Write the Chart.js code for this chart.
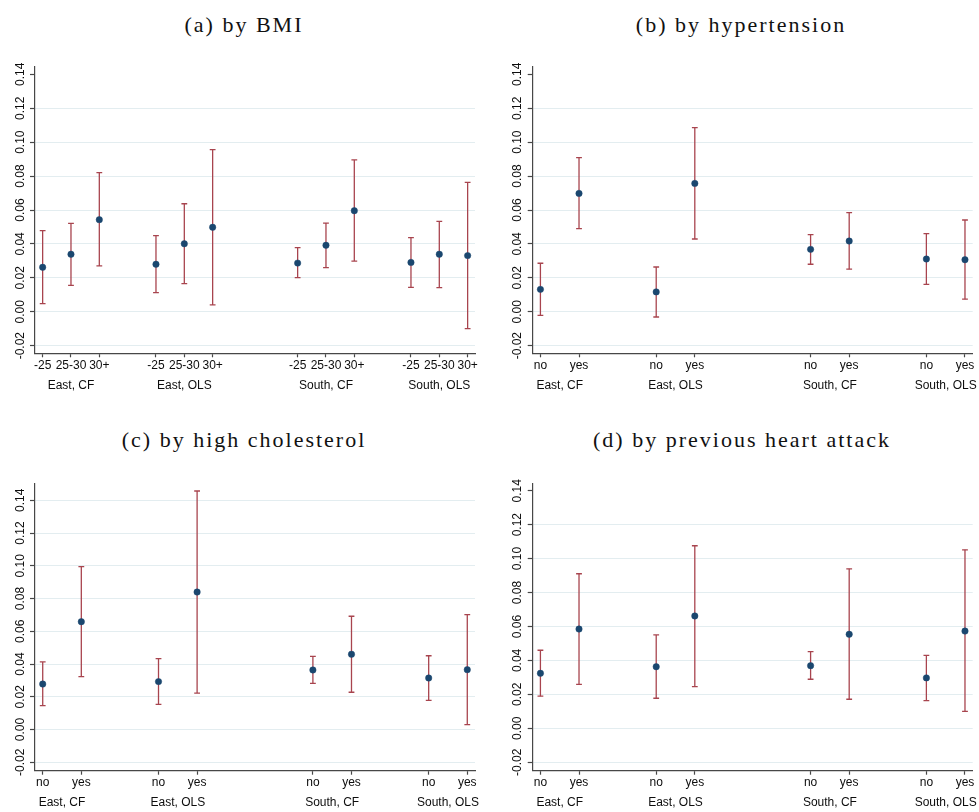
<!DOCTYPE html>
<html>
<head>
<meta charset="utf-8">
<title>Heterogeneous effects</title>
<script src="https://cdn.jsdelivr.net/npm/chart.js@4.4.1/dist/chart.umd.min.js"></script>
<style>
  body { margin: 0; background: #fff; }
  #wrap { position: relative; width: 979px; height: 812px; overflow: hidden; }
  canvas { position: absolute; }
  .ttl {
    position: absolute; width: 480px; height: 26px; line-height: 26px;
    text-align: center; white-space: nowrap;
    font-family: 'Liberation Serif', 'Times New Roman', serif;
    font-size: 22px; letter-spacing: 2px; color: #111;
  }
</style>
</head>
<body>
<div id="wrap">
  <div class="ttl" style="left:4px; top:12px;">(a) by BMI</div>
  <div class="ttl" style="left:501px; top:12px;">(b) by hypertension</div>
  <div class="ttl" style="left:4px; top:427px;">(c) by high cholesterol</div>
  <div class="ttl" style="left:502px; top:427px;">(d) by previous heart attack</div>
  <canvas id="chartBmi" width="489" height="370" style="left:0; top:40px;"></canvas>
  <canvas id="chartHyp" width="489" height="370" style="left:490px; top:40px;"></canvas>
  <canvas id="chartChol" width="489" height="362" style="left:0; top:450px;"></canvas>
  <canvas id="chartHeart" width="489" height="362" style="left:490px; top:450px;"></canvas>
</div>
<script>
const groups = ['East, CF', 'East, OLS', 'South, CF', 'South, OLS'];
const bmiLevels = ['-25', '25-30', '30+'];
const yesNo = ['no', 'yes'];
const yTicks = [-0.02, 0, 0.02, 0.04, 0.06, 0.08, 0.10, 0.12, 0.14];

// (a) BMI
const bmiCoef = [0.0262, 0.0339, 0.0543, 0.0280, 0.0401, 0.0498, 0.0287, 0.0392, 0.0596, 0.0291, 0.0339, 0.0331];
const bmiLow  = [0.0048, 0.0156, 0.0270, 0.0113, 0.0166, 0.0040, 0.0201, 0.0260, 0.0299, 0.0144, 0.0142, -0.0100];
const bmiHigh = [0.0478, 0.0521, 0.0820, 0.0449, 0.0637, 0.0956, 0.0378, 0.0523, 0.0895, 0.0437, 0.0533, 0.0763];

// (b) hypertension
const hypCoef = [0.0132, 0.0698, 0.0117, 0.0757, 0.0368, 0.0417, 0.0311, 0.0307];
const hypLow  = [-0.0021, 0.0490, -0.0031, 0.0429, 0.0280, 0.0251, 0.0162, 0.0074];
const hypHigh = [0.0286, 0.0909, 0.0264, 0.1086, 0.0455, 0.0584, 0.0461, 0.0541];

// (c) high cholesterol
const cholCoef = [0.0278, 0.0659, 0.0293, 0.0840, 0.0364, 0.0460, 0.0315, 0.0366];
const cholLow  = [0.0146, 0.0323, 0.0154, 0.0223, 0.0282, 0.0228, 0.0179, 0.0030];
const cholHigh = [0.0413, 0.0995, 0.0433, 0.1457, 0.0447, 0.0692, 0.0451, 0.0702];

// (d) previous heart attack
const heartCoef = [0.0324, 0.0585, 0.0363, 0.0662, 0.0369, 0.0554, 0.0297, 0.0573];
const heartLow  = [0.0189, 0.0259, 0.0177, 0.0246, 0.0289, 0.0171, 0.0163, 0.0100];
const heartHigh = [0.0460, 0.0911, 0.0550, 0.1076, 0.0452, 0.0940, 0.0430, 0.1052];

const NAVY = '#1a476f';
const RED = '#a8444e';
const AXIS = '#474747';
const GRID = '#e3edf0';

Chart.defaults.font.family = "'Liberation Sans', Arial, sans-serif";
Chart.defaults.font.size = 12;
Chart.defaults.color = '#0d0d0d';

// empty slots between the four groups on the x axis
const groupGap = [0, 1, 3, 4];

function slotPositions(levels) {
    const xs = [];
    groups.forEach((g, gi) => {
        levels.forEach((l, li) => xs.push(gi * levels.length + groupGap[gi] + li));
    });
    return xs;
}

function groupCenters(levels) {
    return groups.map((g, gi) => gi * levels.length + groupGap[gi] + (levels.length - 1) / 2);
}

function noPadding(s) {
    s.paddingTop = 0; s.paddingBottom = 0; s.paddingLeft = 0; s.paddingRight = 0;
}

function makePanel(id, levels, coef, low, high, opt) {
    const xs = slotPositions(levels);
    const tickLabels = groups.flatMap(() => levels);
    const centers = groupCenters(levels);

    const ciData = [];
    xs.forEach((x, i) => {
        ciData.push({ x: x, y: low[i] }, { x: x, y: high[i] }, { x: x, y: null });
    });

    new Chart(document.getElementById(id), {
        type: 'scatter',
        data: {
            datasets: [{
                data: xs.map((x, i) => ({ x: x, y: coef[i] })),
                pointRadius: 3.2,
                pointBackgroundColor: NAVY,
                pointBorderColor: NAVY,
                pointBorderWidth: 0.5
            }, {
                type: 'line',
                data: ciData,
                showLine: true,
                spanGaps: false,
                borderColor: RED,
                borderWidth: 1.3,
                pointStyle: 'line',
                pointRadius: 2.9,
                pointBorderColor: RED,
                pointBorderWidth: 1.3
            }]
        },
        options: {
            responsive: false,
            animation: false,
            events: [],
            layout: { autoPadding: false, padding: opt.padding },
            plugins: { legend: { display: false }, tooltip: { enabled: false } },
            scales: {
                x: {
                    type: 'linear',
                    position: 'bottom',
                    weight: 0,
                    min: opt.xMin,
                    max: opt.xMax,
                    afterBuildTicks: s => { s.ticks = xs.map(v => ({ value: v })); },
                    afterFit: s => { s.height = 22; noPadding(s); },
                    ticks: {
                        autoSkip: false,
                        minRotation: 0,
                        maxRotation: 0,
                        padding: 1,
                        callback: (v, i) => tickLabels[i]
                    },
                    grid: { drawOnChartArea: false, tickLength: 4, tickColor: AXIS, tickWidth: 1.2 },
                    border: { color: AXIS, width: 1.2 }
                },
                groupAxis: {
                    type: 'linear',
                    axis: 'x',
                    position: 'bottom',
                    weight: 1,
                    min: opt.xMin,
                    max: opt.xMax,
                    afterBuildTicks: s => { s.ticks = centers.map(v => ({ value: v })); },
                    afterFit: s => { s.height = 18; noPadding(s); },
                    ticks: {
                        autoSkip: false,
                        minRotation: 0,
                        maxRotation: 0,
                        padding: 3,
                        callback: (v, i) => groups[i]
                    },
                    grid: { display: false, drawTicks: false },
                    border: { display: false }
                },
                y: {
                    type: 'linear',
                    min: opt.yMin,
                    max: opt.yMax,
                    afterBuildTicks: s => { s.ticks = yTicks.map(v => ({ value: v })); },
                    afterFit: s => { s.width = opt.yWidth; noPadding(s); },
                    ticks: {
                        minRotation: 90,
                        maxRotation: 90,
                        crossAlign: 'center',
                        padding: -4,
                        callback: v => Number(v).toFixed(2)
                    },
                    grid: {
                        color: c => (c.tick && c.tick.value > opt.yMax - 0.006) ? 'rgba(0,0,0,0)' : GRID,
                        lineWidth: 1,
                        tickLength: 5,
                        tickColor: AXIS,
                        tickWidth: 1.2
                    },
                    border: { color: AXIS, width: 1.2 }
                }
            }
        }
    });
}

makePanel('chartBmi', bmiLevels, bmiCoef, bmiLow, bmiHigh, {
    xMin: -0.27, xMax: 15.26, yMin: -0.0245, yMax: 0.1445, yWidth: 35,
    padding: { top: 26.7, right: 14, bottom: 16.7, left: 0 }
});
makePanel('chartHyp', yesNo, hypCoef, hypLow, hypHigh, {
    xMin: -0.2, xMax: 11.2, yMin: -0.0245, yMax: 0.1445, yWidth: 42.7,
    padding: { top: 26.7, right: 6.3, bottom: 16.7, left: 0 }
});
makePanel('chartChol', yesNo, cholCoef, cholLow, cholHigh, {
    xMin: -0.2, xMax: 11.2, yMin: -0.0251, yMax: 0.1504, yWidth: 35,
    padding: { top: 33.3, right: 14, bottom: 1.3, left: 0 }
});
makePanel('chartHeart', yesNo, heartCoef, heartLow, heartHigh, {
    xMin: -0.2, xMax: 11.2, yMin: -0.0250, yMax: 0.1444, yWidth: 42.7,
    padding: { top: 33.3, right: 6.3, bottom: 1.3, left: 0 }
});
</script>
</body>
</html>
